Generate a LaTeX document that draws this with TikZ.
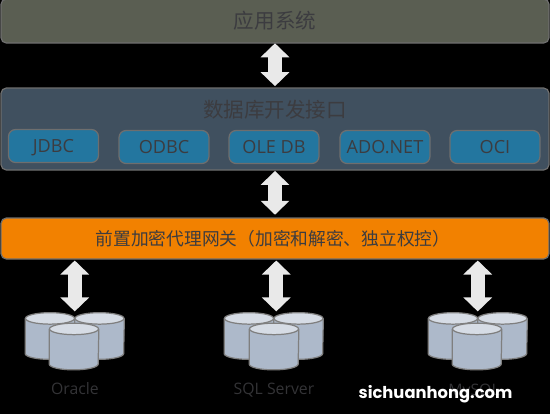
\documentclass[tikz,border=0pt]{standalone}
\usepackage{fontspec}
\setmainfont{Open Sans}
\newfontfamily\cjkfont{Noto Sans CJK SC}
\newfontfamily\markfont{Poppins}
\usepackage{xcolor}
\usetikzlibrary{shapes.geometric, arrows.meta, positioning, calc, fit}
\definecolor{appgrey}{HTML}{5A5E52}
\definecolor{apislate}{HTML}{40505F}
\definecolor{driverblue}{HTML}{23769F}
\definecolor{gateorange}{HTML}{F28100}
\definecolor{edgegrey}{HTML}{6E6E6E}
\definecolor{labelgrey}{HTML}{3C3C40}
\definecolor{dbbody}{HTML}{ADB9CA}
\definecolor{dbtop}{HTML}{D6DCE5}
\definecolor{dbedge}{HTML}{7F7F7F}
\definecolor{dbtext}{HTML}{333336}
\definecolor{duplexfill}{HTML}{E9E9E9}
\newcommand{\dbdrum}[2]{%
  \node[db] (#1) at (#2) {};
  \filldraw[dbskin, fill=dbbody] ([yshift=-0.115cm]#1.north west) -- ([yshift=0.115cm]#1.south west)
    arc[start angle=180, end angle=360, x radius=0.49cm, y radius=0.115cm] -- ([yshift=-0.115cm]#1.north east);
  \filldraw[dbskin, fill=dbtop] ([yshift=-0.115cm]#1.north) ellipse[x radius=0.49cm, y radius=0.115cm];
}

\begin{document}
\begin{tikzpicture}[x=0.02cm, y=-0.02cm,
  bar/.style={draw=edgegrey, line width=0.7pt, rounded corners=3pt, minimum width=10.96cm,
    text=labelgrey, inner sep=0pt},
  driver/.style={draw=edgegrey, line width=0.7pt, fill=driverblue, rounded corners=4pt,
    minimum width=1.8cm, minimum height=0.66cm, text=labelgrey, inner sep=0pt,
    text height=7.5pt, text depth=0pt, font=\fontsize{10.3pt}{12pt}\selectfont},
  db/.style={rectangle, minimum width=0.98cm, minimum height=0.92cm, inner sep=0pt},
  dbskin/.style={draw=dbedge, line width=0.7pt},
  dbname/.style={text=dbtext, font=\fontsize{9pt}{11pt}\selectfont, inner sep=0pt},
  duplex/.style={{Triangle[length=0.28cm, width=0.56cm]}-{Triangle[length=0.28cm, width=0.56cm]},
    draw=duplexfill, line width=0.28cm, shorten >=0.7pt, shorten <=-0.2pt},
  duplexdb/.style={duplex, shorten >=0.5pt, shorten <=0.5pt}]
  \fill[black] (0,0) rectangle (550,414);
  \useasboundingbox (0,0) rectangle (550,414);

  % top layers
  \node[bar, fill=appgrey, minimum height=0.88cm, font=\cjkfont\fontsize{11.7pt}{14pt}\selectfont] (app) at (275,21) {应用系统};
  \node[bar, fill=apislate, minimum height=1.64cm] (api) at (275,129) {};
  \node[text=labelgrey, inner sep=0pt, font=\cjkfont\fontsize{11.7pt}{14pt}\selectfont] (apititle) at (275,110) {数据库开发接口};
  \node[driver] (jdbc) at (53.5,146) {JDBC};
  \node[driver] (odbc) at (164,147) {ODBC};
  \node[driver] (oledb) at (274,147) {OLE DB};
  \node[driver] (adonet) at (385,147) {ADO.NET};
  \node[driver] (oci) at (495,147) {OCI};
  \node[bar, fill=gateorange, minimum height=0.82cm] (gate) at (275,238.5) {};
  \node[text=labelgrey, inner sep=0pt, font=\cjkfont\fontsize{10.1pt}{12pt}\selectfont] (gatetitle) at (273,238.5) {前置加密代理网关（加密和解密、独立权控）};

  % three database stacks
  \dbdrum{ora1}{50,336}
  \dbdrum{ora2}{99.5,336}
  \dbdrum{ora3}{74,346.5}
  \dbdrum{sql1}{249,336}
  \dbdrum{sql2}{298.5,336}
  \dbdrum{sql3}{274,346.5}
  \dbdrum{my1}{453,336}
  \dbdrum{my2}{502.5,336}
  \dbdrum{my3}{477,346.5}
  \node[fit=(ora1)(ora2)(ora3), inner sep=0pt] (orastack) {};
  \node[fit=(sql1)(sql2)(sql3), inner sep=0pt] (sqlstack) {};
  \node[fit=(my1)(my2)(my3), inner sep=0pt] (mystack) {};
  \node[dbname] (oraname) at (75,389) {Oracle};
  \node[dbname] (sqlname) at (274,390) {SQL Server};
  \node[dbname] (myname) at (474,392) {MySQL};

  \draw[duplex] (app.south) -- (api.north);
  \draw[duplex, shorten >=1.5pt, shorten <=0.2pt] (api.south) -- (gate.north);
  \draw[duplexdb] (gate.south -| orastack) -- (orastack.north);
  \draw[duplexdb] ([xshift=0.05cm]gate.south -| sqlstack) -- ([xshift=0.05cm]sqlstack.north);
  \draw[duplexdb] (gate.south -| mystack) -- (mystack.north);

  % overlaid site mark
  \node[text=white, inner sep=0pt, font=\markfont\bfseries\fontsize{9.3pt}{11pt}\selectfont] (sitemark) at (435.5,394) {sichuanhong.com};
\end{tikzpicture}
\end{document}
